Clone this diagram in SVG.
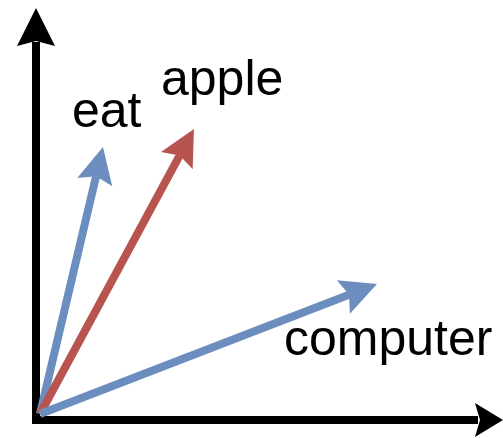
<svg xmlns="http://www.w3.org/2000/svg" width="503" height="438" viewBox="0 0 503 438">
  <style>
    .axis { fill: none; stroke: #000; stroke-width: 8; stroke-linejoin: miter; }
    .head { fill: #000; }
    .vec { fill: none; stroke-width: 8; stroke-linecap: butt; }
    .blue { stroke: #6c8ebf; }
    .red { stroke: #b85450; }
    .label { font-family: "Liberation Sans", Arial, Helvetica, sans-serif; font-size: 50px; fill: #000; }
  </style>
  <defs>
    <marker id="arrowBlue" markerUnits="userSpaceOnUse" markerWidth="36" markerHeight="36" viewBox="0 -18 36 36" refX="6" refY="0" orient="auto" overflow="visible">
      <path d="M0,-18 L36,0 L0,18 L6,0 Z" fill="#6c8ebf"/>
    </marker>
    <marker id="arrowRed" markerUnits="userSpaceOnUse" markerWidth="36" markerHeight="36" viewBox="0 -18 36 36" refX="6" refY="0" orient="auto" overflow="visible">
      <path d="M0,-18 L36,0 L0,18 L6,0 Z" fill="#b85450"/>
    </marker>
  </defs>

  <g id="axes">
    <path class="axis" d="M36,42 V420 H478"/>
    <path class="head" d="M36,8 L55,46 L36,41 L17,46 Z"/>
    <path class="head" d="M503,420 L475,437 L480,420 L475,403 Z"/>
  </g>

  <g id="connectors">
    <line id="vec-eat" class="vec blue" x1="40" y1="414" x2="96.1" y2="176.2" marker-end="url(#arrowBlue)"/>
    <line id="vec-apple" class="vec red" x1="40" y1="414" x2="179.7" y2="155.4" marker-end="url(#arrowRed)"/>
    <line id="vec-computer" class="vec blue" x1="40" y1="414" x2="349.0" y2="294.8" marker-end="url(#arrowBlue)"/>
  </g>

  <g id="label-eat">
    <text class="label" x="72" y="127">eat</text>
  </g>
  <g id="label-apple">
    <text class="label" x="161" y="95">apple</text>
  </g>
  <g id="label-computer">
    <text class="label" x="284" y="355">computer</text>
  </g>
</svg>
